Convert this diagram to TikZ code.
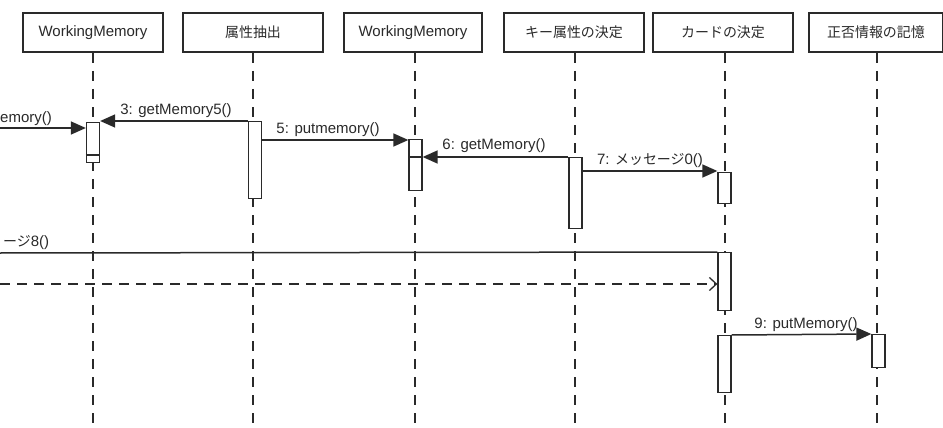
\documentclass[tikz,border=0pt]{standalone}
\usepackage{fontspec}
\setmainfont{Liberation Sans}
\newfontfamily\jp{Noto Sans CJK JP}[Scale=0.93]
\usetikzlibrary{arrows.meta}
\definecolor{ink}{HTML}{2A2A2A}
\tikzset{
  head/.style={draw=ink, line width=2pt, minimum height=39pt, inner sep=0pt, text=ink, font=\fontsize{15}{17}\selectfont},
  life/.style={draw=ink, line width=1.3pt, dash pattern=on 10pt off 8pt},
  act/.style={draw=ink, line width=1.3pt, fill=white, minimum width=13pt, inner sep=0pt, anchor=north},
  msg/.style={draw=ink, line width=1.5pt, -{Triangle[length=15pt,width=13pt]}},
  plain/.style={draw=ink, line width=1.5pt},
  ret/.style={draw=ink, line width=1.3pt, dash pattern=on 10pt off 7pt, -{Straight Barb[length=7pt,width=13pt]}},
  lbl/.style={text=ink, inner sep=0pt, font=\fontsize{15}{17}\selectfont}
}
\begin{document}
\begin{tikzpicture}[x=1pt,y=-1pt]
\useasboundingbox (0,0) rectangle (943,428);
\clip (0,0) rectangle (943,428);
\fill[white] (0,0) rectangle (943,428);
% headers
\node[head, minimum width=140pt] (h1) at (93,32.5) {WorkingMemory};
\node[head, minimum width=140pt] (h2) at (253,32.5) {\jp 属性抽出};
\node[head, minimum width=138pt] (h3) at (413,32.5) {WorkingMemory};
\node[head, minimum width=140pt] (h4) at (574,32.5) {\jp キー属性の決定};
\node[head, minimum width=140pt] (h5) at (723,32.5) {\jp カードの決定};
\node[head, minimum width=134pt] (h6) at (876,32.5) {\jp 正否情報の記憶};
% lifelines
\foreach \h/\x in {h1/93,h2/253,h3/415,h4/575,h5/725,h6/877}{
  \coordinate (\h b) at (\x,428);
  \draw[life] (\h.south -| \h b) -- (\h b);
}
% activations
\node[act, minimum height=40pt] (a1) at (93,122) {};
\node[act, minimum height=77pt] (a2) at (255,121) {};
\node[act, minimum height=51pt] (a3) at (415.5,139) {};
\node[act, minimum height=71pt] (a4) at (575.5,157) {};
\node[act, minimum height=31pt] (a5) at (724.5,172) {};
\node[act, minimum height=58pt] (a6) at (724.5,252) {};
\node[act, minimum height=57pt] (a7) at (724.5,335) {};
\node[act, minimum height=33pt] (a8) at (878.5,334) {};
\coordinate (a1m) at (93,155);
\draw[draw=ink, line width=1.3pt] (a1.west |- a1m) -- (a1.east |- a1m);
\coordinate (a3m) at (415.5,157);
\draw[draw=ink, line width=1.3pt] (a3.west |- a3m) -- (a3.east |- a3m);
% free ends at the left edge
\coordinate (L1) at (0,128);
\coordinate (L8) at (0,253);
\coordinate (L8r) at (0,284);
% messages
\draw[msg] (L1) -- (a1.west |- L1);
\node[lbl, anchor=south west] at (0,126) {emory()};
\draw[msg] (a2.north west) -- (a1.east |- a2.north west);
\node[lbl] at (176,111) {3: getMemory5()};
\coordinate (m5) at (262,140);
\draw[msg] (a2.east |- m5) -- (a3.west |- m5);
\node[lbl] at (328,130) {5: putmemory()};
\draw[msg] (a4.north west) -- (a3.east |- a4.north west);
\node[lbl] at (494,146) {6: getMemory()};
\coordinate (m7) at (582,171);
\draw[msg] (a4.east |- m7) -- (a5.west |- m7);
\node[lbl] at (650,161) {7: {\jp メッセージ}0()};
\draw[plain] (L8) -- (a6.north west);
\node[lbl, anchor=south west] at (3,250) {{\jp ージ}8()};
\draw[ret] (L8r) -- (a6.west |- L8r);
\draw[msg] (a7.north east) -- (a8.north west);
\node[lbl] at (806,325) {9: putMemory()};
\end{tikzpicture}
\end{document}
